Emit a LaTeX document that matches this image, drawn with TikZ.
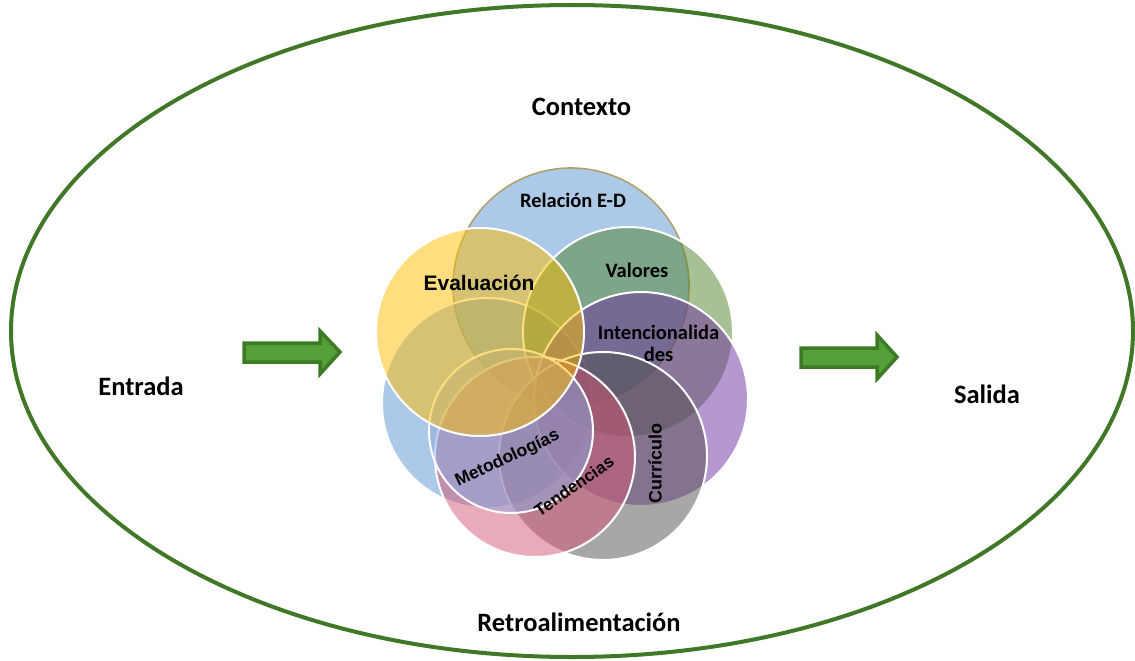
\documentclass[tikz,border=0pt]{standalone}
\usepackage{fontspec}
\setmainfont{Carlito}
\newfontfamily\arialf{Liberation Sans}
\definecolor{frameGreen}{RGB}{65,120,40}
\definecolor{arrowFill}{RGB}{82,160,55}
\definecolor{arrowLine}{RGB}{60,122,38}
\definecolor{cBlue}{RGB}{89,147,209}
\definecolor{cKhaki}{RGB}{176,160,110}
\definecolor{cGreen}{RGB}{81,129,45}
\definecolor{cPurple}{RGB}{112,48,160}
\definecolor{cGrey}{RGB}{80,80,80}
\definecolor{cPink}{RGB}{211,85,115}
\definecolor{cMeto}{RGB}{140,170,225}
\definecolor{cYellow}{RGB}{255,190,0}
\tikzset{
  ring/.style={line width=2pt, draw=white, fill opacity=0.5},
  outerlbl/.style={font=\fontsize{26.5}{30}\selectfont\bfseries, anchor=base, inner sep=0pt},
  calilbl/.style={font=\fontsize{20.5}{22}\selectfont\bfseries, anchor=base, inner sep=0pt},
  ariallbl/.style={font=\arialf\fontsize{17.5}{20}\selectfont\bfseries, inner sep=0pt},
  blockarrow/.style={draw=arrowLine, fill=arrowFill, line width=3.5pt, line join=miter}
}
\begin{document}
\begin{tikzpicture}[x=1pt,y=-1pt]
\useasboundingbox (0,0) rectangle (1135,661);
% outer ellipse
\draw[frameGreen, line width=4pt] (572,331) ellipse [x radius=561, y radius=326];
% circles
\path[ring, fill=cBlue, draw=cKhaki, line width=1.6pt] (571,286) circle[radius=118];
\path[ring, fill=cBlue] (487,403) circle[radius=105];
\path[ring, fill=cGreen] (628,332) circle[radius=105];
\path[ring, fill=cPurple] (641,399) circle[radius=107];
\path[ring, fill=cGrey] (603,456) circle[radius=104];
\path[ring, fill=cPink] (535,457) circle[radius=100];
\path[ring, fill=cMeto] (511,431) circle[radius=82];
\path[ring, fill=cYellow] (480,332) circle[radius=104];
% arrows
\draw[blockarrow] (244,343) -- (320,343) -- (320,331) -- (340,352) -- (320,374) -- (320,362) -- (244,362) -- cycle;
\draw[blockarrow] (801,348) -- (877,348) -- (877,335) -- (897,357) -- (877,379) -- (877,367) -- (801,367) -- cycle;
% outer labels
\node[outerlbl] (contexto) at (581.5,115.5) {Contexto};
\node[outerlbl] (entrada) at (141,395) {Entrada};
\node[outerlbl] (salida) at (987,403) {Salida};
\node[outerlbl] (retro) at (579,631) {Retroalimentación};
% inner labels
\node[calilbl] (relacion) at (573,207) {Relación E-D};
\node[calilbl] (valores) at (637,277) {Valores};
\node[calilbl] (inten) at (658.5,339) {Intencionalida};
\node[calilbl] (intendes) at (658.5,361) {des};
\node[ariallbl, font=\arialf\fontsize{21}{24}\selectfont\bfseries, anchor=base] (evaluacion) at (479,290.7) {Evaluación};
\node[ariallbl, rotate=25] (meto) at (507.5,458.5) {Metodologías};
\node[ariallbl, font=\arialf\fontsize{17}{20}\selectfont\bfseries, rotate=35] (tend) at (574,486) {Tendencias};
\node[ariallbl, font=\arialf\fontsize{18}{20}\selectfont\bfseries, rotate=90] (curr) at (655,463.5) {Currículo};
\end{tikzpicture}
\end{document}
